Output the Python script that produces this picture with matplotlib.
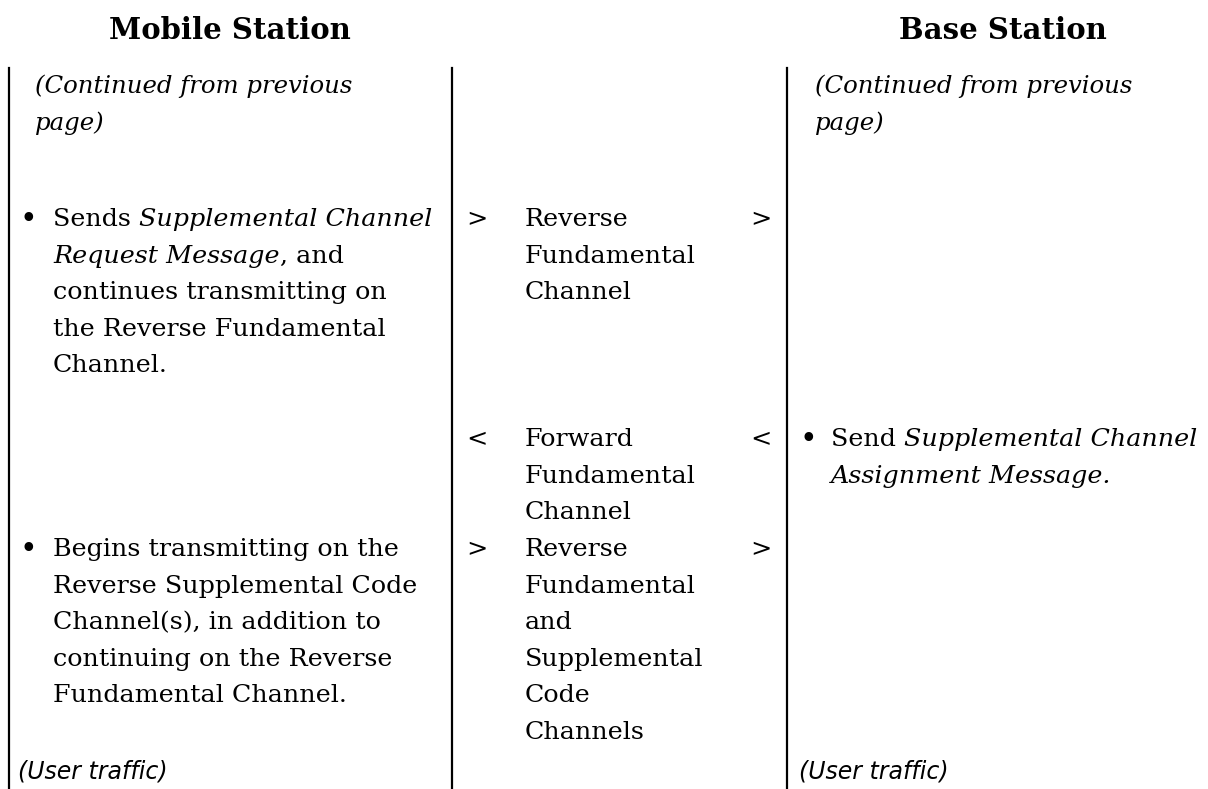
import matplotlib
matplotlib.use('Agg')
import matplotlib.pyplot as plt

# column headers
headers = ["Mobile Station", "Base Station"]

# text blocks, each line is a list of (text, style) runs
continued = ["(Continued from previous", "page)"]

ms_request = [
    [("Sends ", "normal"), ("Supplemental Channel", "italic")],
    [("Request Message", "italic"), (", and", "normal")],
    [("continues transmitting on", "normal")],
    [("the Reverse Fundamental", "normal")],
    [("Channel.", "normal")],
]

bs_assign = [
    [("Send ", "normal"), ("Supplemental Channel", "italic")],
    [("Assignment Message.", "italic")],
]

ms_begin = [
    [("Begins transmitting on the", "normal")],
    [("Reverse Supplemental Code", "normal")],
    [("Channel(s), in addition to", "normal")],
    [("continuing on the Reverse", "normal")],
    [("Fundamental Channel.", "normal")],
]

link_rev = ["Reverse", "Fundamental", "Channel"]
link_fwd = ["Forward", "Fundamental", "Channel"]
link_sup = ["Reverse", "Fundamental", "and", "Supplemental", "Code", "Channels"]

footer = "(User traffic)"

# layout (pixels)
W, H = 1208, 789
FONT = "DejaVu Serif"
FS = 18.3
LH = 36.6

fig = plt.figure(figsize=(W / 100, H / 100), dpi=100)
ax = fig.add_axes([0, 0, 1, 1])
ax.set_xlim(0, W)
ax.set_ylim(H, 0)
ax.axis('off')
renderer = fig.canvas.get_renderer()


def width(s, style):
    t = ax.text(0, 0, s, family=FONT, fontsize=FS, style=style)
    w = t.get_window_extent(renderer).width
    t.remove()
    return w


space = width("x x", "normal") - width("xx", "normal")


def runs_line(x, y, runs):
    for text, style in runs:
        if text.startswith(" "):
            x += space
            text = text[1:]
        ax.text(x, y, text, family=FONT, fontsize=FS, style=style,
                va='baseline', ha='left')
        x += width(text, style)


def block(x, y, lines):
    for i, runs in enumerate(lines):
        runs_line(x, y + i * LH, runs)


def plain(x, y, lines, style="normal", fs=FS):
    for i, s in enumerate(lines):
        ax.text(x, y + i * LH, s, family=FONT, fontsize=fs, style=style,
                va='baseline', ha='left')


def link(y, words, arrow):
    ax.text(466, y, arrow, family=FONT, fontsize=FS, va='baseline')
    ax.text(750, y, arrow, family=FONT, fontsize=FS, va='baseline')
    plain(525, y, words)


def bullet(x, y):
    ax.text(x, y + 2, "\u2022", family=FONT, fontsize=FS + 3, va='baseline')


# headers
ax.text(230, 39, headers[0], family=FONT, fontsize=21, weight='heavy',
        ha='center', va='baseline')
ax.text(1003, 39, headers[1], family=FONT, fontsize=21, weight='heavy',
        ha='center', va='baseline')

# vertical lines
for xl in [9, 452, 787]:
    ax.plot([xl, xl], [68, H], color='black', lw=1.6)

# continued
plain(35, 93, continued, "italic", fs=17.6)
plain(815, 93, continued, "italic", fs=17.6)

# step 1
bullet(19, 226)
block(53, 226, ms_request)
link(226, link_rev, ">")

# step 2
link(446, link_fwd, "<")
bullet(800, 446)
block(831, 446, bs_assign)

# step 3
bullet(19, 556)
block(53, 556, ms_begin)
link(556, link_sup, ">")

# footer
ax.text(18, 779, footer, family="DejaVu Sans", fontsize=17, style='italic',
        va='baseline')
ax.text(799, 779, footer, family="DejaVu Sans", fontsize=17, style='italic',
        va='baseline')

fig.savefig("out.png", dpi=100)
